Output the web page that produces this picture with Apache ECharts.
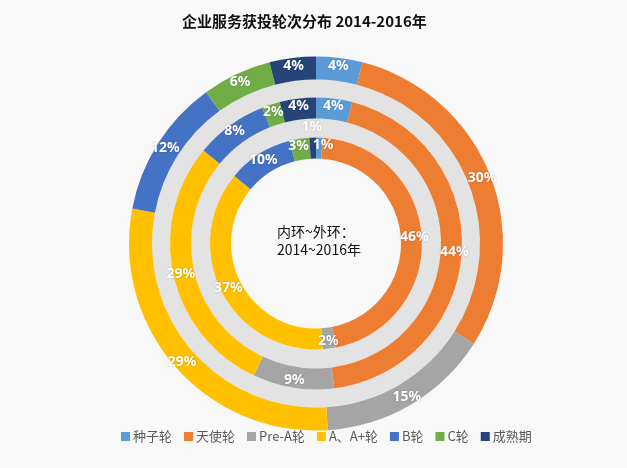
<!DOCTYPE html>
<html><head><meta charset="utf-8">
<script src="https://cdn.jsdelivr.net/npm/echarts@6/dist/echarts.min.js"></script>
<style>html,body{margin:0;padding:0;background:#f8f8f8}#c{width:627px;height:468px}</style>
</head><body><div id="c"></div>
<script>
const categories = ['种子轮','天使轮','Pre-A轮','A、A+轮','B轮','C轮','成熟期'];
const values2014 = [1,46,2,37,10,3,1];
const values2015 = [4,44,9,29,8,2,4];
const values2016 = [4,30,15,29,12,6,4];
const colors = ['#5B9BD5','#ED7D31','#A5A5A5','#FFC000','#4472C4','#70AD47','#264478'];

const chart = echarts.init(document.getElementById('c'));
const C = [316, 243.5];
const labelStyle = {show:true, position:'inside', formatter:'{c}%', color:'#fff', fontWeight:'bold', fontSize:14, fontFamily:'Noto Sans, DejaVu Sans, sans-serif', textShadowColor:'rgba(0,0,0,0.25)', textShadowBlur:2};
function ring(name, vals, r, layoutFn){
  const s = {type:'pie', name, center:C, radius:r, startAngle:90, clockwise:true, avoidLabelOverlap:false,
    minShowLabelAngle:0,
    label:labelStyle, labelLine:{show:false}, emphasis:{disabled:true},
    data: vals.map((v,i)=>({name:categories[i], value:v, itemStyle:{color:colors[i]}}))};
  if (layoutFn) s.labelLayout = layoutFn;
  return s;
}
function gap(r){
  return {type:'pie', center:C, radius:r, silent:true, label:{show:false}, labelLine:{show:false},
    data:[{name:'gap', value:1, itemStyle:{color:'#e3e3e3'}}]};
}
chart.setOption({
  animation:false,
  backgroundColor:'#f8f8f8',
  color: colors,
  title:{text:'企业服务获投轮次分布 2014-2016年', left:177, top:9,
    textStyle:{fontSize:15, fontWeight:'bold', color:'#111', fontFamily:'Noto Sans CJK SC, sans-serif'}},
  legend:{data:categories, bottom:20, left:116, icon:'rect', itemWidth:9, itemHeight:9, itemGap:12,
    textStyle:{color:'#595959', fontSize:13, fontFamily:'Noto Sans CJK SC, sans-serif', padding:[0,0,0,-2]}},
  graphic:[{type:'text', left:277, top:223, style:{text:'内环~外环：\n2014~2016年', fill:'#111', fontSize:14, lineHeight:18, fontFamily:'Noto Sans CJK SC, sans-serif'}}],
  series:[
    gap([106,125]),
    gap([146,164]),
    ring('2014', values2014, [85,106], function(p){ return p.dataIndex===6 ? {dy:-18, dx:-1} : (p.dataIndex===0 ? {dx:4} : (p.dataIndex===5 ? {dx:-2} : {})); }),
    ring('2015', values2015, [125,146]),
    ring('2016', values2016, [164,187])
  ]
});
</script></body></html>
